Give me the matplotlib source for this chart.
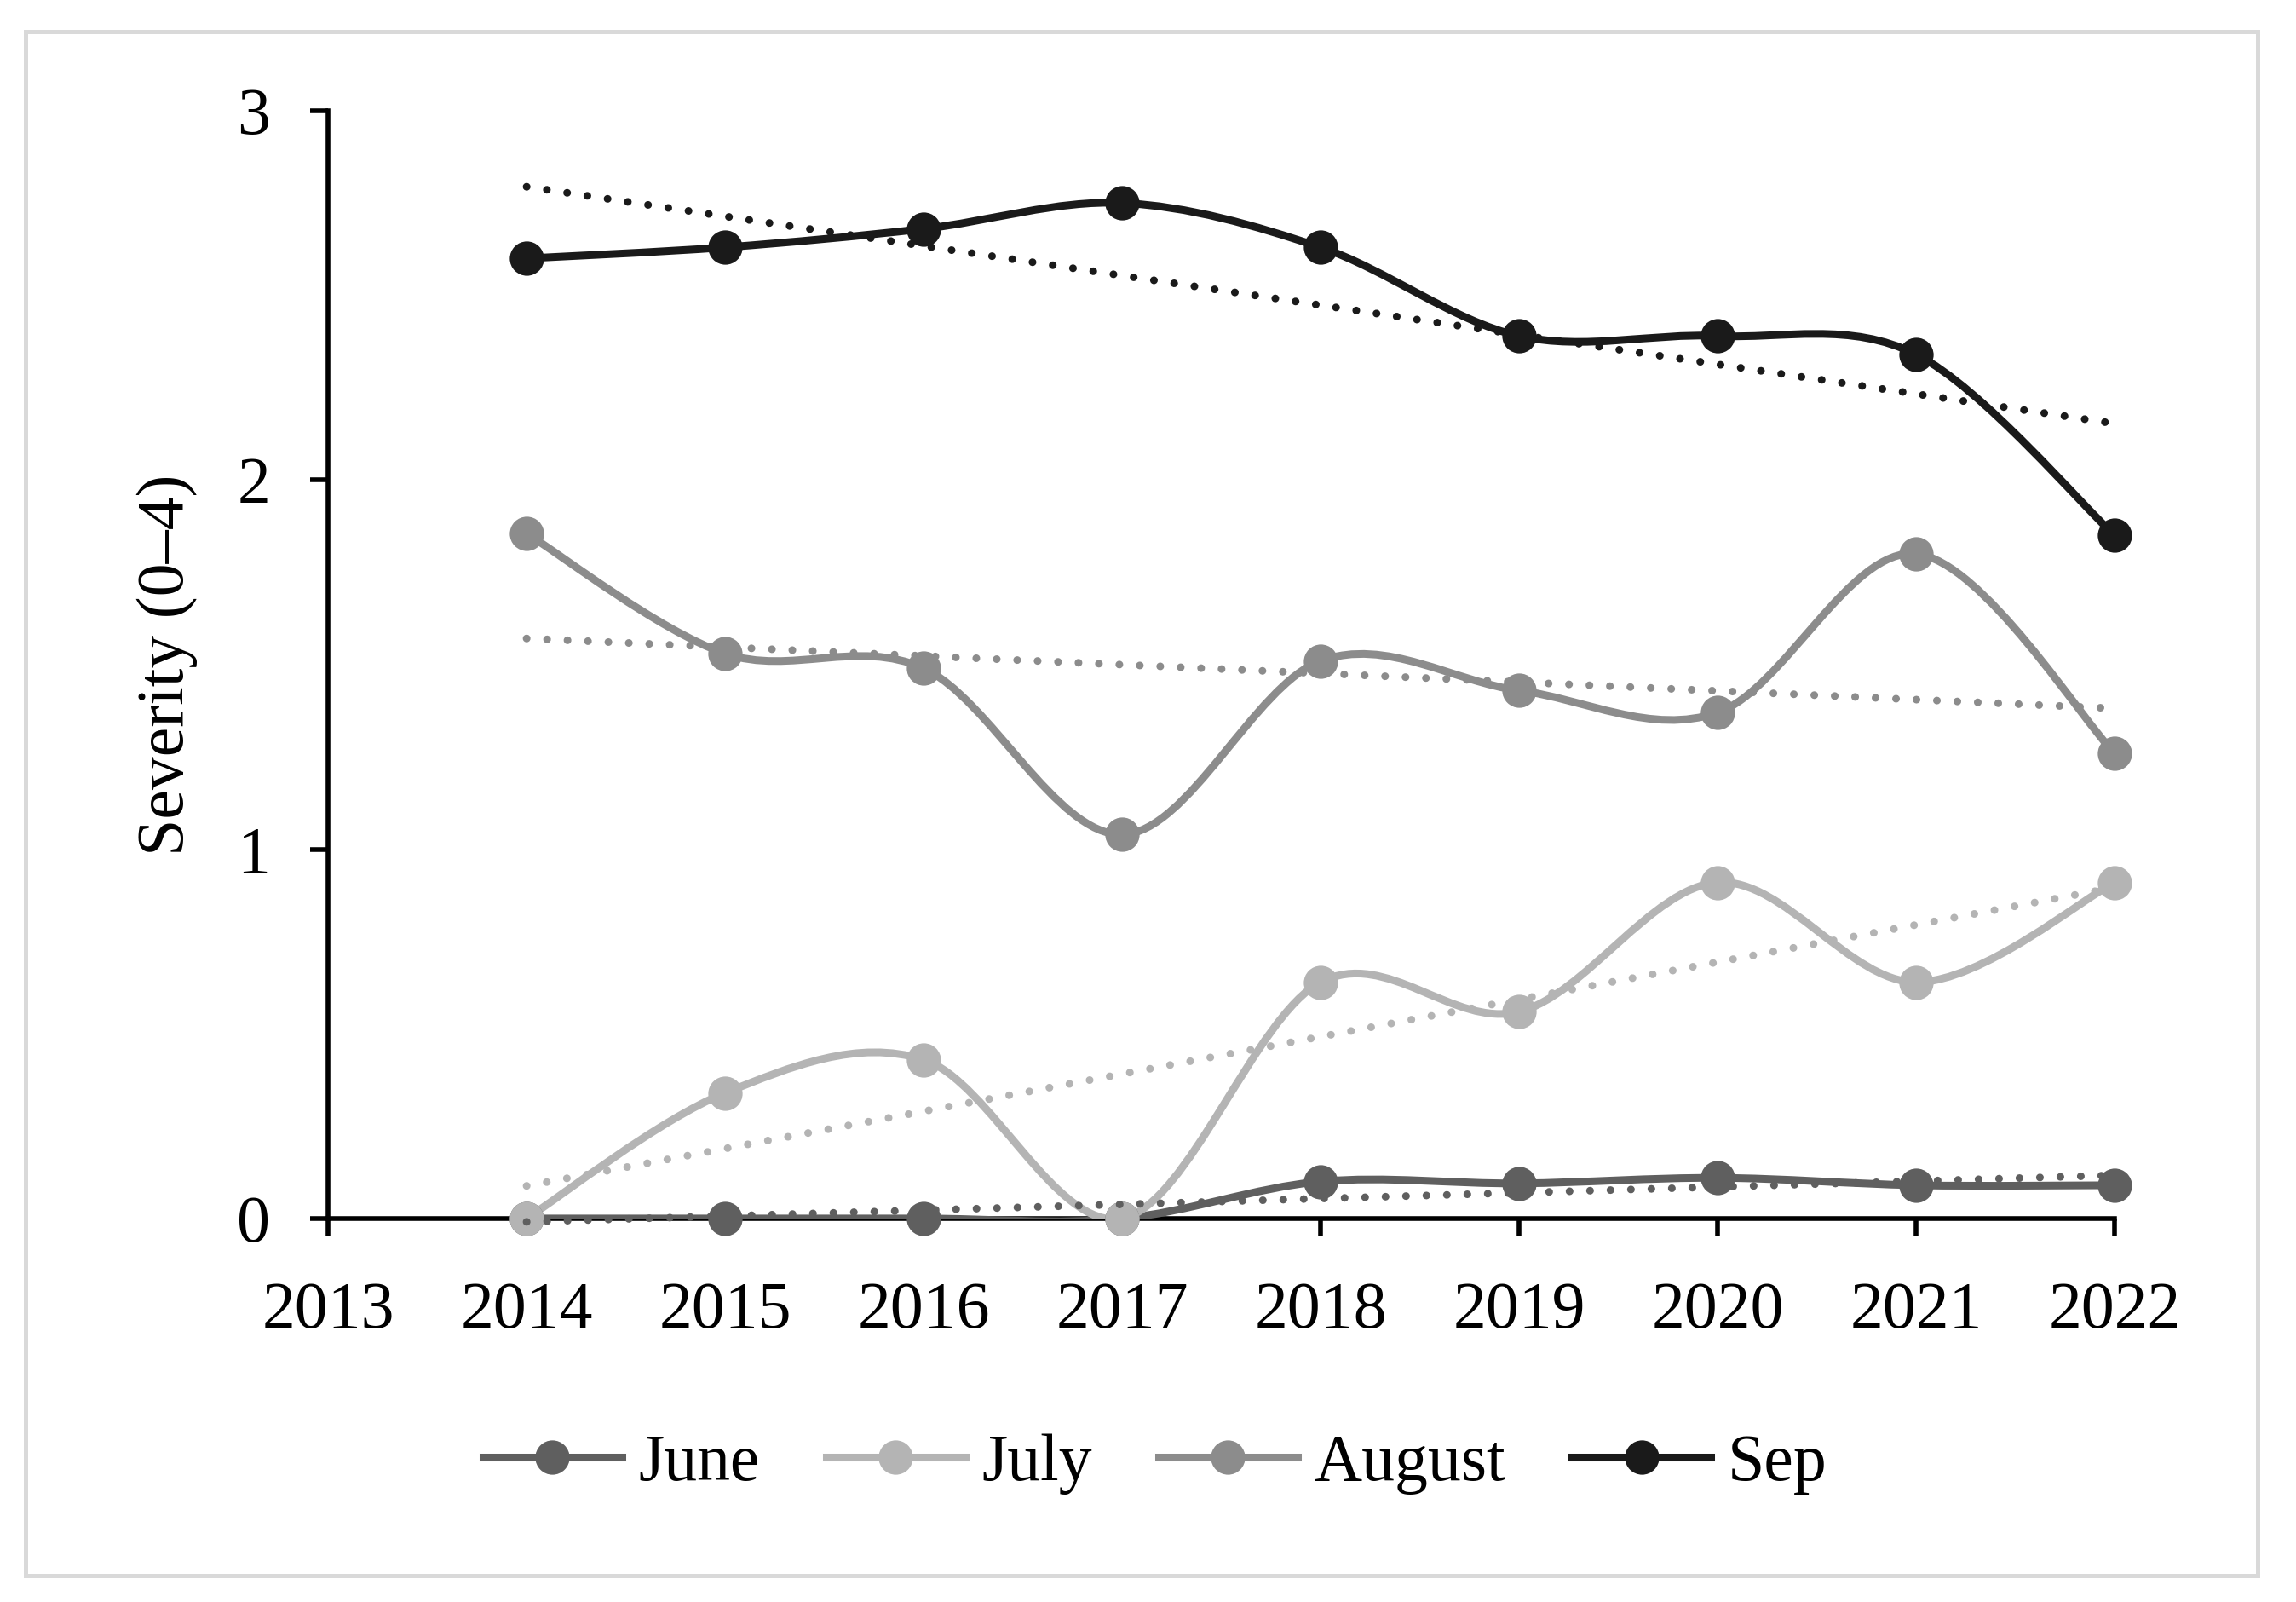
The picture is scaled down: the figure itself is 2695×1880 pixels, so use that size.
import numpy as np
import matplotlib.pyplot as plt
from matplotlib.path import Path
from matplotlib.patches import PathPatch, Rectangle
from matplotlib.lines import Line2D

# Data
years = [2014, 2015, 2016, 2017, 2018, 2019, 2020, 2021, 2022]
june = [0.0, 0.0, 0.0, 0.0, 0.10, 0.095, 0.11, 0.09, 0.09]
july = [0.0, 0.34, 0.43, 0.0, 0.64, 0.56, 0.91, 0.64, 0.91]
august = [1.855, 1.53, 1.49, 1.04, 1.51, 1.43, 1.37, 1.80, 1.26]
sep = [2.60, 2.63, 2.68, 2.75, 2.63, 2.39, 2.39, 2.34, 1.85]

series_names = ['June', 'July', 'August', 'Sep']
series_values = [june, july, august, sep]
series_colors = ['#5f5f5f', '#b4b4b4', '#8c8c8c', '#1a1a1a']

x_ticks = list(range(2013, 2023))
y_ticks = [0, 1, 2, 3]

plt.rcParams['font.family'] = ['Liberation Serif', 'DejaVu Serif']


def smooth_path(xs, ys):
    # Excel-like smoothed line: Bezier segments with Catmull-Rom control points
    xs = np.asarray(xs, float)
    ys = np.asarray(ys, float)
    n = len(xs)
    verts = [(xs[0], ys[0])]
    codes = [Path.MOVETO]
    for i in range(n - 1):
        p0 = np.array([xs[max(i - 1, 0)], ys[max(i - 1, 0)]])
        p1 = np.array([xs[i], ys[i]])
        p2 = np.array([xs[i + 1], ys[i + 1]])
        p3 = np.array([xs[min(i + 2, n - 1)], ys[min(i + 2, n - 1)]])
        c1 = p1 + (p2 - p0) / 6.0
        c2 = p2 - (p3 - p1) / 6.0
        verts += [tuple(c1), tuple(c2), tuple(p2)]
        codes += [Path.CURVE4, Path.CURVE4, Path.CURVE4]
    return Path(verts, codes)


fig = plt.figure(figsize=(26.95, 18.80), dpi=100)
ax = fig.add_axes([0.1429, 0.2394, 0.9210 - 0.1429, 0.9309 - 0.2394])

handles = []
for name, vals, col in zip(series_names, series_values, series_colors):
    patch = PathPatch(smooth_path(years, vals), facecolor='none', edgecolor=col,
                      lw=6.5, capstyle='round', joinstyle='round', zorder=3)
    ax.add_patch(patch)
    ax.plot(years, vals, linestyle='none', marker='o', markersize=29,
            color=col, markeredgewidth=0, zorder=4, clip_on=False)
    # linear trend line
    k, b = np.polyfit(years, vals, 1)
    xt = np.array([years[0], years[-1]])
    ax.plot(xt, k * xt + b, color=col, lw=6.5, linestyle=(0, (0.01, 2.65)),
            dash_capstyle='round', zorder=5, clip_on=False)
    handles.append(Line2D([], [], color=col, lw=6.5, marker='o', markersize=29,
                          markeredgewidth=0))

ax.set_xlim(2013, 2022)
ax.set_ylim(0, 3)
ax.set_xticks(x_ticks)
ax.set_yticks(y_ticks)
ax.set_xticklabels([str(t) for t in x_ticks])
ax.set_yticklabels([str(t) for t in y_ticks])

for s in ['top', 'right']:
    ax.spines[s].set_visible(False)
for s in ['left', 'bottom']:
    ax.spines[s].set_linewidth(4)
    ax.spines[s].set_capstyle('projecting')

ax.tick_params(axis='both', direction='out', length=15, width=4, labelsize=56,
               colors='black')
ax.tick_params(axis='x', pad=38)
ax.tick_params(axis='y', pad=34)

ax.set_ylabel('Severity (0\u20134)', fontsize=56)
ax.yaxis.set_label_coords(-0.073, 0.5)

fig.legend(handles, series_names, loc='center', bbox_to_anchor=(0.503, 0.086),
           ncol=4, frameon=False, fontsize=56, handlelength=2.1,
           handletextpad=0.25, columnspacing=1.0)

# light grey border around the figure
fig.patches.append(Rectangle((30 / 2695, 31 / 1880), 2620 / 2695, 1812 / 1880,
                             transform=fig.transFigure, fill=False,
                             edgecolor='#d9d9d9', lw=3.6))

fig.savefig('out.png', dpi=100)
